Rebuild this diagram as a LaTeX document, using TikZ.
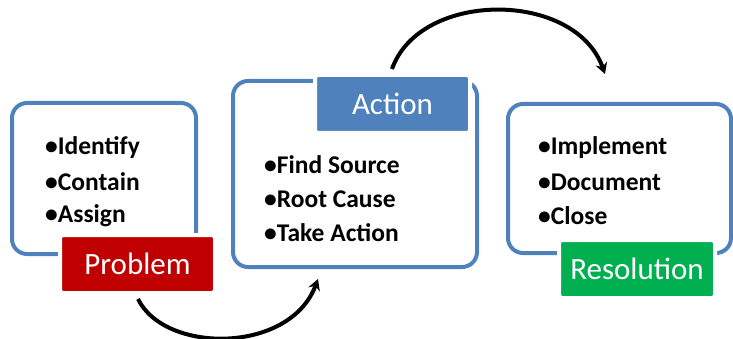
\documentclass[tikz,border=0pt]{standalone}
\usepackage{fontspec}
\setmainfont{Carlito}
\usetikzlibrary{arrows.meta}
\definecolor{frameblue}{HTML}{4F81BD}
\definecolor{probred}{HTML}{C00000}
\definecolor{resgreen}{HTML}{00B050}
\begin{document}
\begin{tikzpicture}[x=1pt,y=-1pt,
  frame/.style={draw=frameblue, line width=4pt, rounded corners=15pt},
  label/.style={draw=white, line width=4pt, rounded corners=3pt, text=white,
    font=\fontsize{31}{33}\selectfont, inner sep=0pt, anchor=center},
  bullet/.style={anchor=west, inner sep=0pt, font=\fontsize{25.5}{27}\bfseries\selectfont},
  flow/.style={line width=4pt, -{Stealth[length=11pt,width=12pt]}}]
\useasboundingbox (0,0) rectangle (733,339);
% frames
\draw[frame] (12,103) rectangle (196,254);
\draw[frame] (233,81) rectangle (477,267);
\draw[frame] (508,104) rectangle (731,253);
% labels
\node[label, fill=probred, minimum width=155pt, minimum height=58pt] (prob) at (137.5,264) {Problem};
\node[label, fill=frameblue, minimum width=155pt, minimum height=58pt] (act) at (392.5,104) {Action};
\node[label, fill=resgreen, minimum width=156pt, minimum height=58pt] (res) at (637,269) {Resolution};
% bullets
\node[bullet] (p1) at (45,148) {•Identify};
\node[bullet] (p2) at (45,182) {•Contain};
\node[bullet] (p3) at (45,216) {•Assign};
\node[bullet] (a1) at (264,165) {•Find Source};
\node[bullet] (a2) at (264,199) {•Root Cause};
\node[bullet] (a3) at (264,233) {•Take Action};
\node[bullet] (r1) at (538,148) {•Implement};
\node[bullet] (r2) at (538,182) {•Document};
\node[bullet] (r3) at (538,216) {•Close};
% arrows
\coordinate (s1) at (138,299);
\coordinate (e1) at (318,279);
\coordinate (s2) at (392,69);
\coordinate (e2) at (605,74);
\draw[flow] (s1) .. controls (165,354) and (290,354) .. (e1);
\draw[flow] (s2) .. controls (420,-10) and (575,-10) .. (e2);
\end{tikzpicture}
\end{document}
